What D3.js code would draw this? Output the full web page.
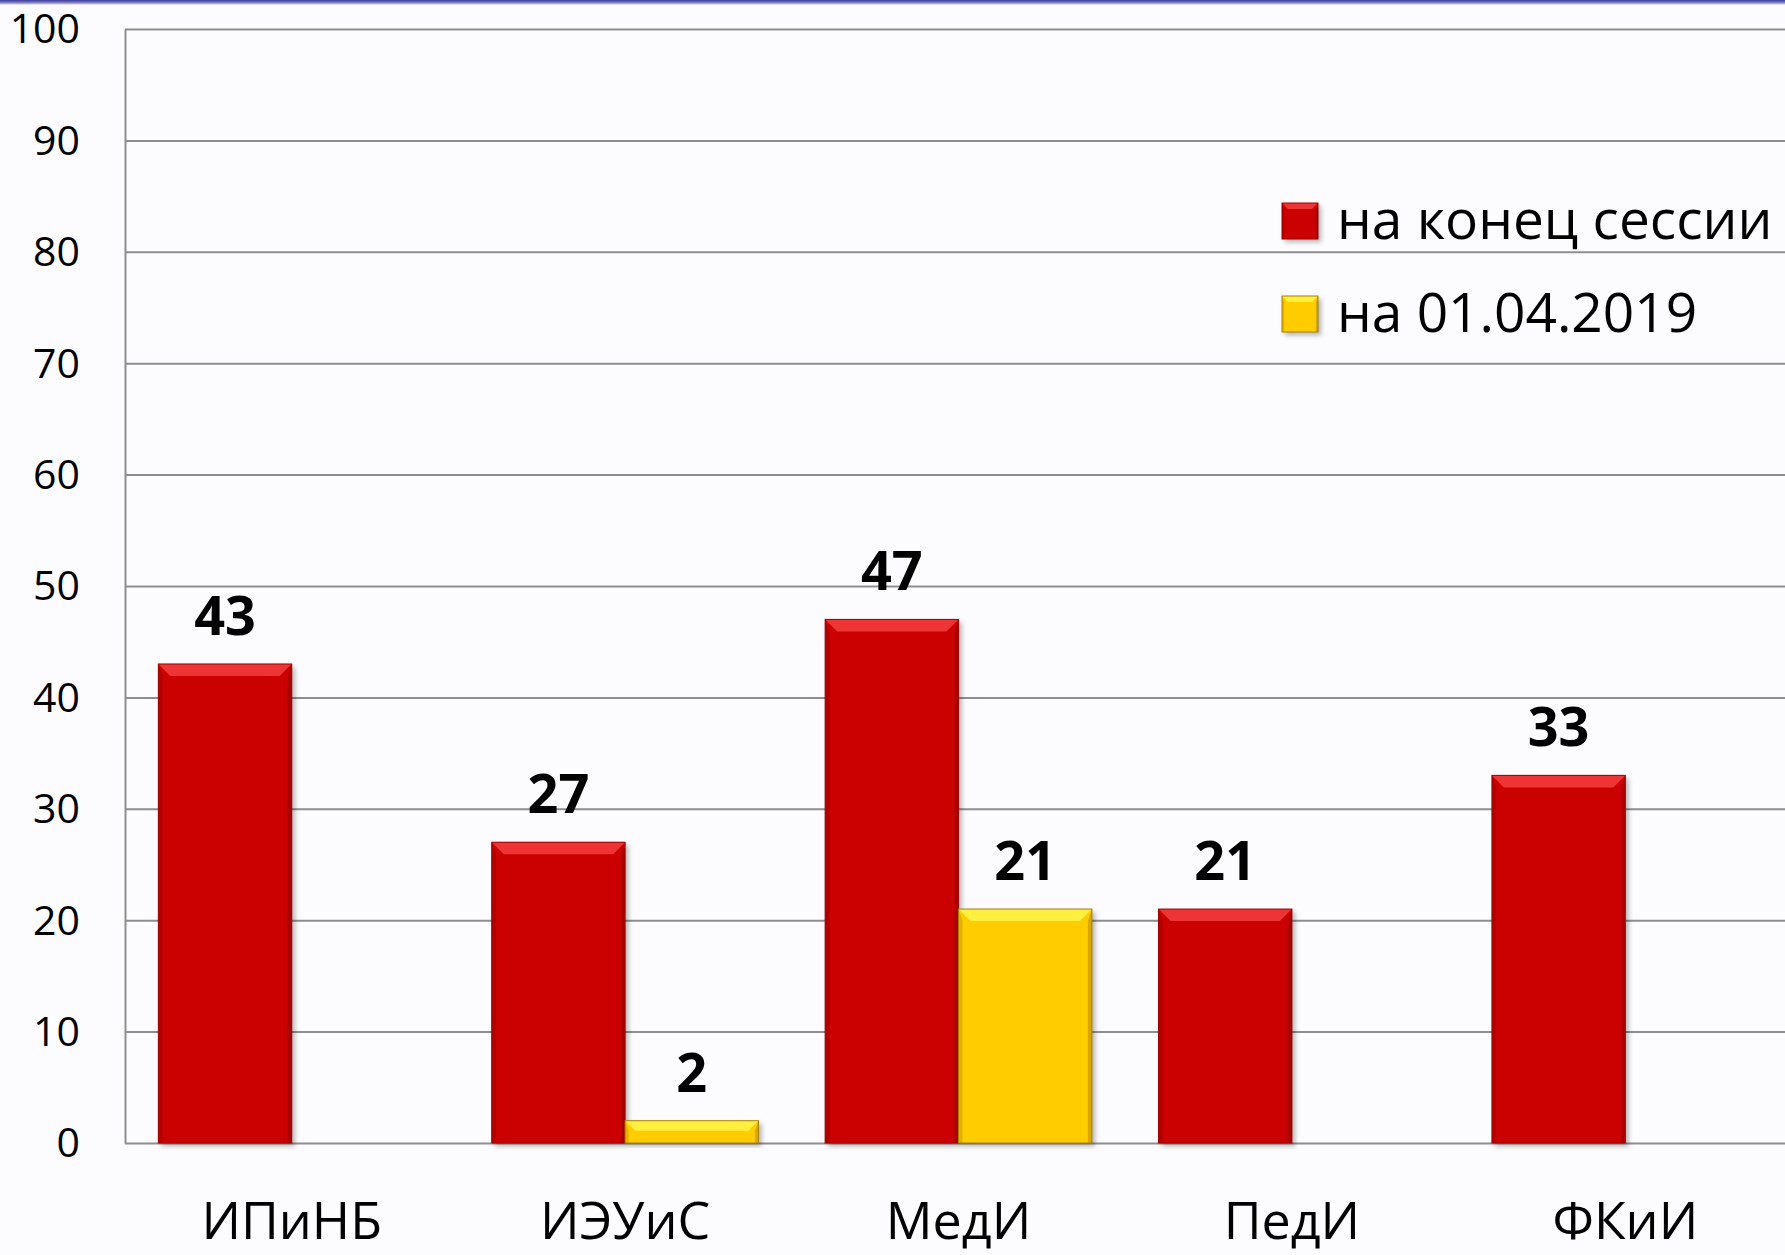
<!DOCTYPE html>
<html>
<head>
<meta charset="utf-8">
<script src="https://cdn.jsdelivr.net/npm/d3@7"></script>
<style>
  html, body { margin: 0; padding: 0; background: #fcfcfe; }
  svg { display: block; }
</style>
</head>
<body>
<div id="chart"></div>
<script>
(function () {
  "use strict";
  var width = 1785;
  var height = 1255;

  // data
  var categories = ["ИПиНБ", "ИЭУиС", "МедИ", "ПедИ", "ФКиИ"];
  var seriesNames = ["на конец сессии", "на 01.04.2019"];
  var endOfSession = [43, 27, 47, 21, 33];
  var onApril1 = [0, 2, 21, 0, 0];
  var yTicks = [0, 10, 20, 30, 40, 50, 60, 70, 80, 90, 100];

  var colors = {
    "на конец сессии": { base: "#cb0404", light: "#ee3434", dark: "#9a0202", edge: "#a00000" },
    "на 01.04.2019": { base: "#ffcc05", light: "#fff040", dark: "#c89800", edge: "#a88000" }
  };

  var plotLeft = 125, plotRight = 1792, plotTop = 29, plotBottom = 1143;

  var svg = d3.select("#chart").append("svg")
    .attr("width", width)
    .attr("height", height);

  svg.append("rect")
    .attr("width", width).attr("height", height)
    .style("fill", "#fcfcfe");

  // blue line at top
  var defs = svg.append("defs");
  var topGrad = defs.append("linearGradient").attr("id", "topline")
    .attr("x1", 0).attr("y1", 0).attr("x2", 0).attr("y2", 1);
  topGrad.append("stop").attr("offset", "0%").attr("stop-color", "#3c3c9c");
  topGrad.append("stop").attr("offset", "60%").attr("stop-color", "#8a8ac8");
  topGrad.append("stop").attr("offset", "100%").attr("stop-color", "#fcfcfe");
  svg.append("rect").attr("x", 0).attr("y", 0).attr("width", width).attr("height", 5)
    .style("fill", "url(#topline)");

  var shadow = defs.append("filter").attr("id", "shadow")
    .attr("x", "-10%").attr("y", "-10%").attr("width", "130%").attr("height", "130%");
  shadow.append("feDropShadow").attr("dx", 3).attr("dy", 3).attr("stdDeviation", 2.5)
    .attr("flood-color", "#000").attr("flood-opacity", 0.3);

  var x0 = d3.scaleBand().domain(categories).range([plotLeft, plotRight])
    .paddingInner(0.2).paddingOuter(0.1);
  var x1 = d3.scaleBand().domain(seriesNames).range([0, x0.bandwidth()]);
  var y = d3.scaleLinear().domain([0, 100]).range([plotBottom, plotTop]);

  // gridlines
  var grid = svg.append("g").attr("transform", "translate(" + plotLeft + ",0)")
    .call(d3.axisLeft(y).tickValues(yTicks).tickSize(-(plotRight - plotLeft)).tickFormat(""));
  grid.select(".domain").remove();
  grid.selectAll("line").style("stroke", "#8e8e8e").style("stroke-width", 2);

  // y axis
  var yAxis = svg.append("g").attr("transform", "translate(" + plotLeft + ",0)")
    .call(d3.axisLeft(y).tickValues(yTicks).tickSize(0).tickPadding(45));
  yAxis.select(".domain").style("stroke", "#8e8e8e").style("stroke-width", 2);
  yAxis.selectAll("text")
    .attr("dy", "0.34em")
    .style("font-family", "'Open Sans', sans-serif")
    .style("font-size", "41px")
    .style("fill", "#000");

  // x axis labels
  var xAxis = svg.append("g").attr("transform", "translate(0," + plotBottom + ")")
    .call(d3.axisBottom(x0).tickSize(0).tickPadding(61));
  xAxis.select(".domain").remove();
  xAxis.selectAll("text")
    .attr("dy", "0.68em")
    .style("font-family", "'Open Sans', sans-serif")
    .style("font-size", "52px")
    .style("fill", "#000");

  var rows = categories.map(function (c, i) {
    return { cat: c, values: [
      { name: seriesNames[0], value: endOfSession[i] },
      { name: seriesNames[1], value: onApril1[i] }
    ] };
  });

  function drawBevel(g, x, yTop, w, h, col, bevelMax) {
    var b = Math.min(bevelMax, h / 2.2, w / 4);
    g.append("rect").attr("x", x).attr("y", yTop).attr("width", w).attr("height", h)
      .style("fill", col.base).attr("filter", "url(#shadow)");
    // top bevel
    g.append("polygon")
      .attr("points", [[x, yTop], [x + w, yTop], [x + w - b, yTop + b], [x + b, yTop + b]].join(" "))
      .style("fill", col.light);
    // left bevel
    var sb = Math.min(b * 0.35, 4);
    g.append("polygon")
      .attr("points", [[x, yTop], [x + sb, yTop + b], [x + sb, yTop + h], [x, yTop + h]].join(" "))
      .style("fill", col.dark).style("opacity", 0.5);
    // right bevel
    g.append("polygon")
      .attr("points", [[x + w, yTop], [x + w - sb, yTop + b], [x + w - sb, yTop + h], [x + w, yTop + h]].join(" "))
      .style("fill", col.dark).style("opacity", 0.7);
    g.append("rect").attr("x", x).attr("y", yTop).attr("width", w).attr("height", h)
      .style("fill", "none").style("stroke", col.edge).style("stroke-width", 1);
  }

  var groups = svg.append("g").selectAll("g.group").data(rows).enter().append("g")
    .attr("class", "group")
    .attr("transform", function (d) { return "translate(" + x0(d.cat) + ",0)"; });

  groups.each(function (d) {
    var g = d3.select(this);
    d.values.forEach(function (v) {
      if (!v.value) return;
      var bx = x1(v.name);
      var bw = x1.bandwidth();
      var top = y(v.value);
      drawBevel(g.append("g"), bx, top, bw, y(0) - top, colors[v.name], 12);
      g.append("text")
        .attr("x", bx + bw / 2)
        .attr("y", top - 29)
        .attr("text-anchor", "middle")
        .style("font-family", "'Open Sans', sans-serif")
        .style("font-weight", "bold")
        .style("font-size", "54px")
        .style("fill", "#000")
        .text(v.value);
    });
  });

  // legend
  var legend = svg.append("g").attr("transform", "translate(1282,203)");
  seriesNames.forEach(function (name, i) {
    var item = legend.append("g").attr("transform", "translate(0," + (i * 93) + ")");
    drawBevel(item, 0, 0, 36, 36, colors[name], 6);
    item.append("text")
      .attr("x", 55).attr("y", 36)
      .style("font-family", "'Open Sans', sans-serif")
      .style("font-size", "55px")
      .style("fill", "#000")
      .text(name);
  });
})();
</script>
</body>
</html>
